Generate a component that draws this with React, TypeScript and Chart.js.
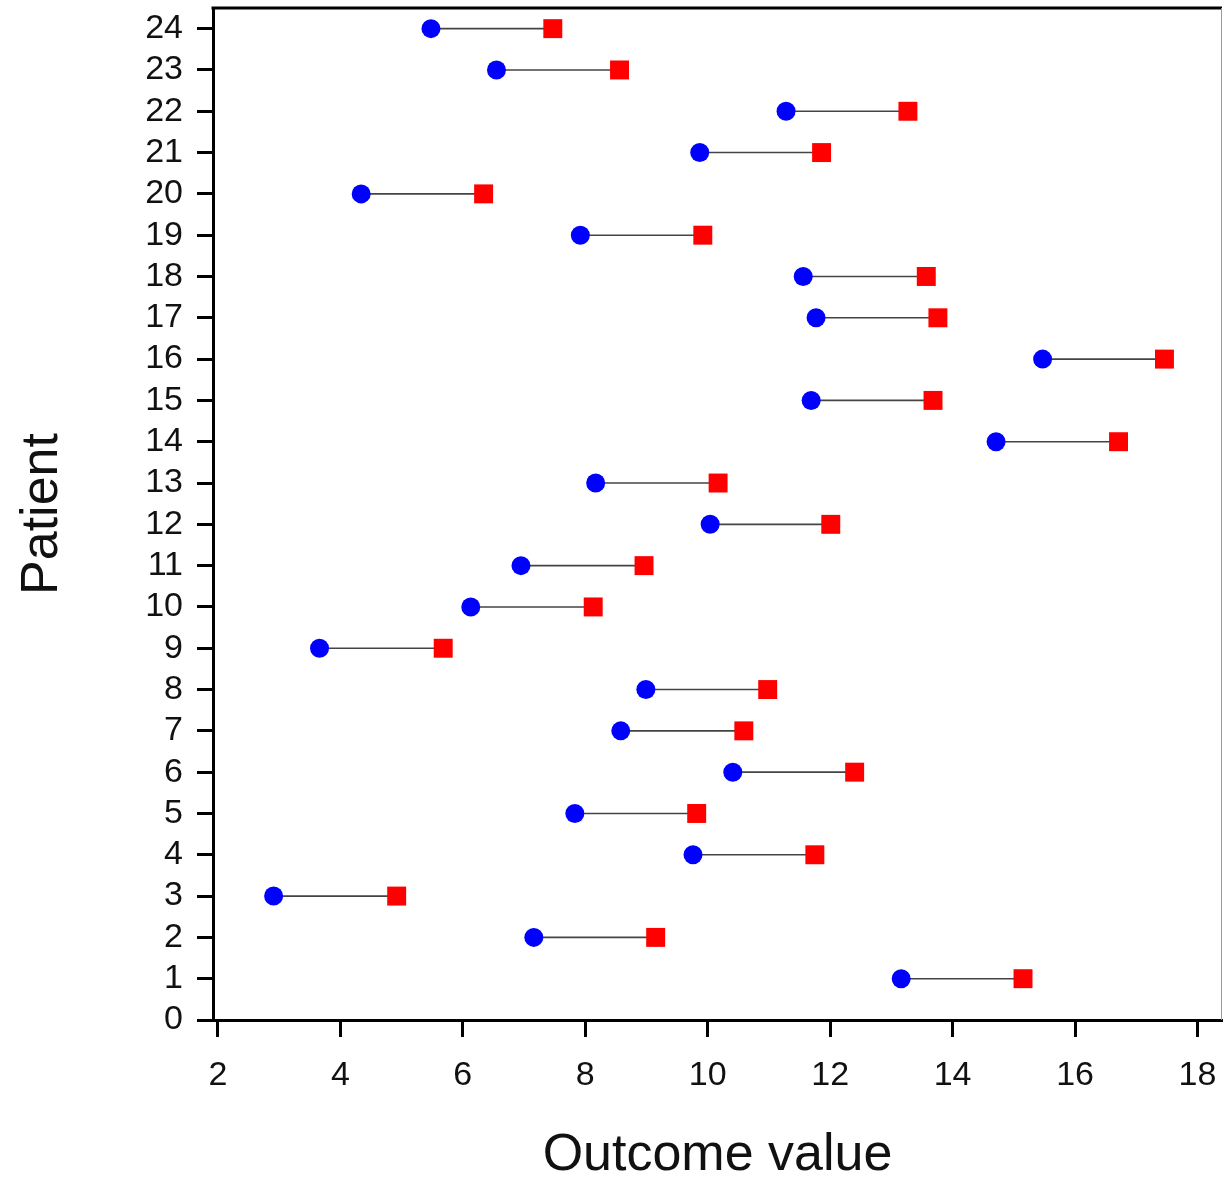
import React, { useEffect, useRef } from "react";
import { Chart, registerables } from "chart.js";

Chart.register(...registerables);

const patients = [1, 2, 3, 4, 5, 6, 7, 8, 9, 10, 11, 12, 13, 14, 15, 16, 17, 18, 19, 20, 21, 22, 23, 24];
const blueValues = [13.16, 7.16, 2.91, 9.76, 7.83, 10.41, 8.58, 8.99, 3.66, 6.13, 6.95, 10.04, 8.17, 14.71, 11.69, 15.47, 11.77, 11.56, 7.92, 4.34, 9.87, 11.28, 6.55, 5.48];
const redValues = [15.15, 9.15, 4.92, 11.75, 9.82, 12.40, 10.59, 10.98, 5.68, 8.13, 8.96, 12.01, 10.17, 16.71, 13.68, 17.46, 13.76, 13.57, 9.92, 6.34, 11.86, 13.27, 8.56, 7.47];
const xTicks = [2, 4, 6, 8, 10, 12, 14, 16, 18];
const yTicks = [0, 1, 2, 3, 4, 5, 6, 7, 8, 9, 10, 11, 12, 13, 14, 15, 16, 17, 18, 19, 20, 21, 22, 23, 24];

const FONT = "'Liberation Sans', Arial, sans-serif";

const framePlugin = {
  id: "frame",
  afterDatasetsDraw(chart: any) {
    const { ctx, chartArea } = chart;
    ctx.save();
    ctx.strokeStyle = "#000";
    ctx.lineWidth = 3;
    ctx.beginPath();
    ctx.moveTo(chartArea.left - 1.5, chartArea.top);
    ctx.lineTo(chartArea.right, chartArea.top);
    ctx.stroke();
    ctx.strokeStyle = "#999";
    ctx.lineWidth = 1;
    ctx.beginPath();
    ctx.moveTo(chartArea.right - 0.5, chartArea.top);
    ctx.lineTo(chartArea.right - 0.5, chartArea.bottom);
    ctx.stroke();
    ctx.restore();
  },
};

export default function App() {
  const ref = useRef<HTMLCanvasElement | null>(null);
  useEffect(() => {
    if (!ref.current) return;
    const lineData: any[] = [];
    patients.forEach((p, i) => {
      lineData.push({ x: blueValues[i], y: p });
      lineData.push({ x: redValues[i], y: p });
      lineData.push({ x: redValues[i], y: null });
    });
    const chart = new Chart(ref.current, {
      type: "scatter",
      data: {
        datasets: [
          {
            label: "Blue",
            data: patients.map((p, i) => ({ x: blueValues[i], y: p })),
            backgroundColor: "#0000ff",
            borderColor: "#0000ff",
            pointStyle: "circle",
            pointRadius: 9.5,
            borderWidth: 0,
            order: 0,
          },
          {
            label: "Red",
            data: patients.map((p, i) => ({ x: redValues[i], y: p })),
            backgroundColor: "#ff0000",
            borderColor: "#ff0000",
            pointStyle: "rect",
            pointRadius: 13.4,
            borderWidth: 0,
            order: 0,
          },
          {
            type: "line",
            label: "Links",
            data: lineData,
            borderColor: "#444444",
            borderWidth: 1.6,
            pointRadius: 0,
            showLine: true,
            spanGaps: false,
            fill: false,
            order: 5,
          } as any,
        ],
      },
      options: {
        animation: false,
        responsive: false,
        maintainAspectRatio: false,
        layout: { autoPadding: false, padding: { top: 8, right: 2, left: 0, bottom: 0 } },
        plugins: { legend: { display: false }, tooltip: { enabled: false } },
        scales: {
          x: {
            type: "linear",
            min: 1.92,
            max: 18.4,
            afterBuildTicks: (scale: any) => {
              scale.ticks = xTicks.map((v) => ({ value: v }));
            },
            afterFit: (scale: any) => {
              scale.height = 167;
              scale.paddingLeft = 0;
              scale.paddingRight = 0;
            },
            grid: {
              drawOnChartArea: false,
              drawTicks: true,
              tickLength: 17,
              tickWidth: 3,
              tickColor: "#000",
            },
            border: { display: true, width: 3, color: "#000" },
            ticks: {
              color: "#111",
              font: { family: FONT, size: 34 },
              padding: 18,
              maxRotation: 0,
              autoSkip: false,
            },
            title: {
              display: true,
              text: "Outcome value",
              color: "#111",
              font: { family: FONT, size: 52 },
              padding: { top: 33, bottom: 0 },
            },
          },
          y: {
            type: "linear",
            min: 0,
            max: 24.5,
            afterBuildTicks: (scale: any) => {
              scale.ticks = yTicks.map((v) => ({ value: v }));
            },
            afterFit: (scale: any) => {
              scale.width = 213;
              scale.paddingTop = 0;
              scale.paddingBottom = 0;
            },
            grid: {
              drawOnChartArea: false,
              drawTicks: true,
              tickLength: 16,
              tickWidth: 3,
              tickColor: "#000",
            },
            border: { display: true, width: 3, color: "#000" },
            ticks: {
              color: "#111",
              font: { family: FONT, size: 34 },
              padding: 14,
              autoSkip: false,
            },
            title: {
              display: true,
              text: "Patient",
              color: "#111",
              font: { family: FONT, size: 52 },
              padding: { top: 11, bottom: 0 },
            },
          },
        },
      },
      plugins: [framePlugin],
    });
    return () => chart.destroy();
  }, []);
  return (
    <div style={{ position: "fixed", left: 0, top: 0, width: 1224, height: 1187, background: "#fff" }}>
      <canvas ref={ref} width={1224} height={1187} style={{ width: 1224, height: 1187, display: "block" }} />
    </div>
  );
}
